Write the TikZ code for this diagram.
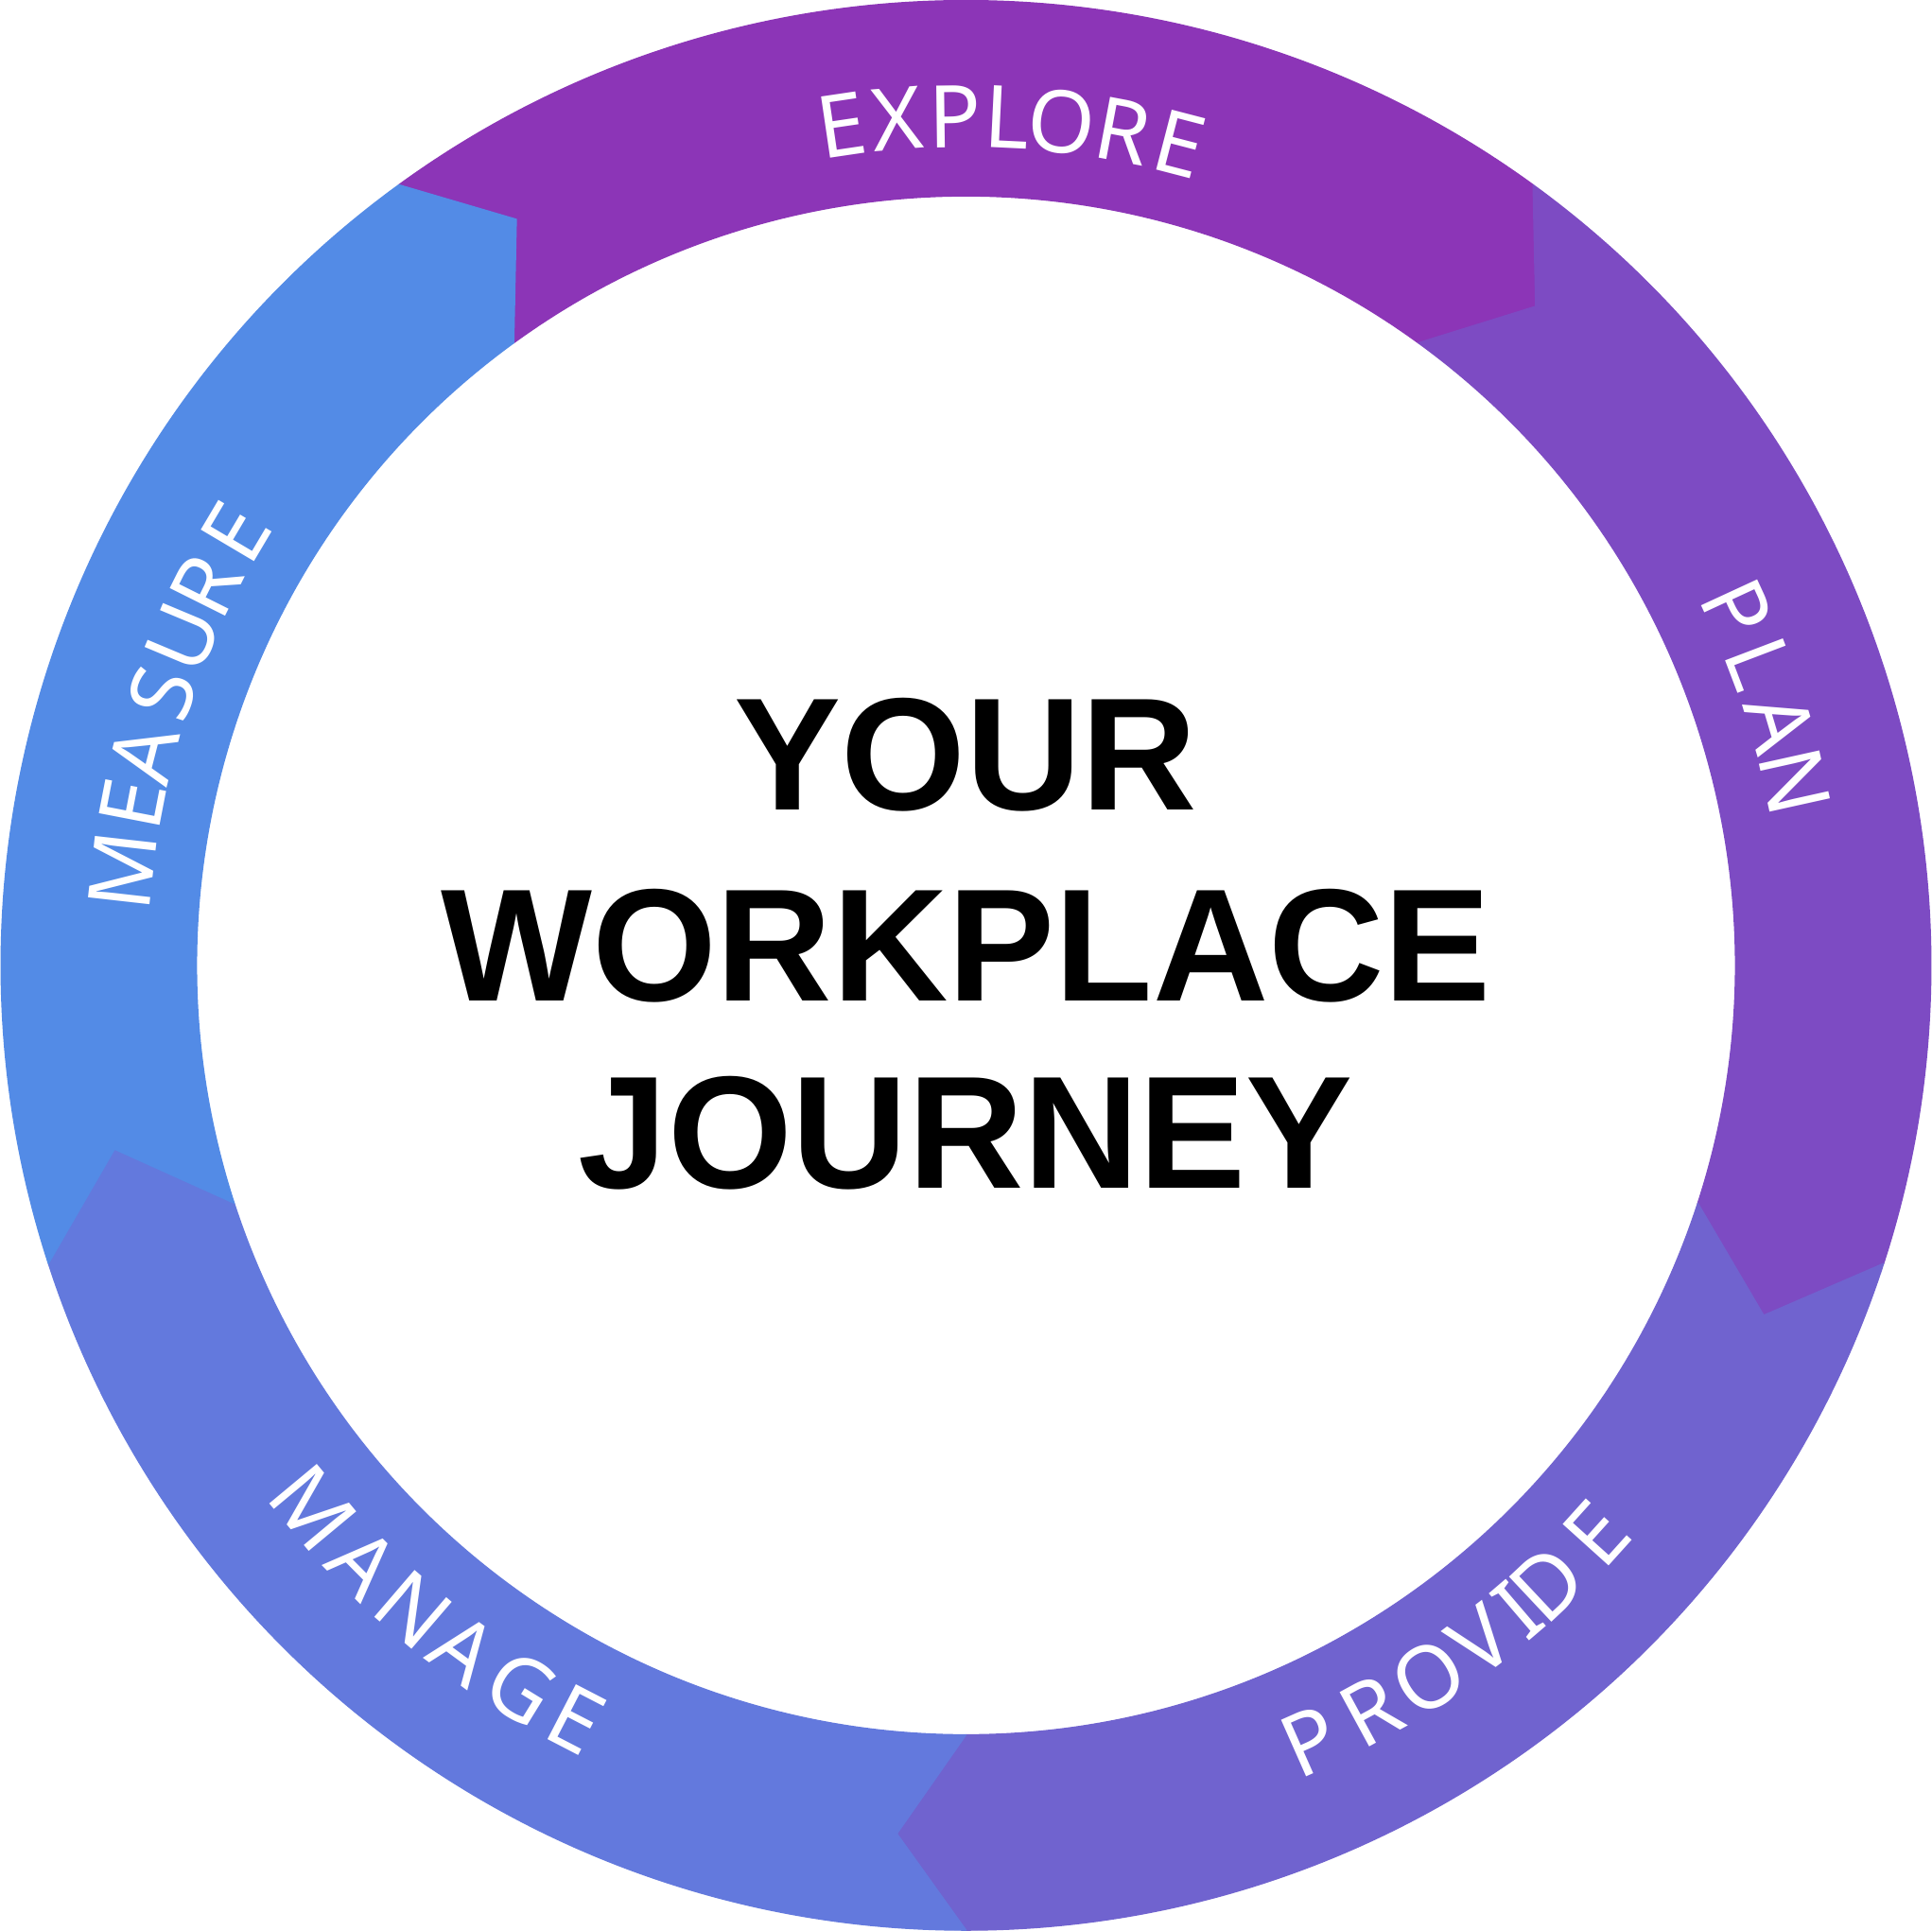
\documentclass[tikz,border=0pt]{standalone}
\usepackage{fontspec}
\setmainfont{Noto Sans}
\newfontfamily\titlefont{Liberation Sans}
\newcommand\ringfont{\fontsize{20}{24}\selectfont}
\usepackage{tikz}

\definecolor{explore}{HTML}{8C35B7}
\definecolor{plan}{HTML}{7D4BC3}
\definecolor{provide}{HTML}{7063CF}
\definecolor{manage}{HTML}{6379DD}
\definecolor{measure}{HTML}{538BE6}

\tikzset{
  ring label/.style={text=white, inner sep=0pt, font=\ringfont},
  title/.style={anchor=base, inner sep=0pt, font=\titlefont\bfseries\fontsize{37}{40}\selectfont},
}

\begin{document}
\begin{tikzpicture}
    % Page
    \useasboundingbox (-7.84,-7.835) rectangle (7.84,7.835);
    \fill[white] (-7.84,-7.835) rectangle (7.84,7.835);

    % Ring segments: start, notch, end, tip (each points clockwise into the next)
    \foreach \a/\n/\b/\t/\col in {126/121.08/54/49.16/explore,
                                  54/49.16/-18/-23.69/plan,
                                  -18/-23.69/-90/-94.55/provide,
                                  -90/-94.55/-162/-167.82/manage,
                                  198/192.18/126/121.08/measure}
        \filldraw[\col, line width=0.3pt, line join=round] (\a:7.83)
            arc[start angle=\a, end angle=\b, radius=7.83]
            -- (\t:7.07) -- (\b:6.245)
            arc[start angle=\b, end angle=\a, radius=6.245]
            -- (\n:7.07) -- cycle;

    % Step labels, letter by letter round the ring
    \foreach \ch/\ang [count=\i] in {E/98.40,X/94.68,P/90.73,L/87.23,O/83.54,R/79.33,E/75.45}
        \node[ring label, rotate=\ang-90] (explore-\i) at (\ang:6.89) {\ch};
    \foreach \ch/\ang [count=\i] in {P/24.81,L/20.84,A/16.59,N/12.51}
        \node[ring label, rotate=\ang-90] (plan-\i) at (\ang:6.89) {\ch};
    \foreach \ch/\ang [count=\i] in {P/-66.09,R/-61.47,O/-56.99,V/-52.7,I/-49.45,D/-46.78,E/-42.04}
        \node[ring label, rotate=\ang+90] (provide-\i) at (\ang:6.89) {\ch};
    \foreach \ch/\ang [count=\i] in {M/-140.26,A/-135.2,N/-130.64,A/-126.3,G/-121.6,E/-117.36}
        \node[ring label, rotate=\ang+90] (manage-\i) at (\ang:6.89) {\ch};
    \foreach \ch/\ang [count=\i] in {M/173.56,E/169.06,A/165.58,S/161.29,U/157.27,R/153.45,E/149.35}
        \node[ring label, rotate=\ang-90] (measure-\i) at (\ang:6.89) {\ch};

    % Title
    \node[title] (your) at (0,1.26) {YOUR};
    \node[title] (workplace) at (0,-0.29) {WORKPLACE};
    \node[title] (journey) at (0,-1.81) {JOURNEY};
\end{tikzpicture}
\end{document}
